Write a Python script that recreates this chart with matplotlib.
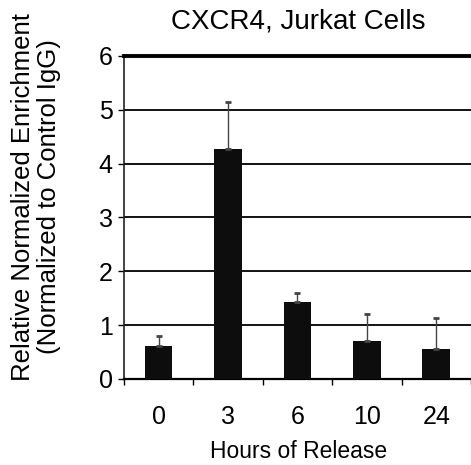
import matplotlib
matplotlib.use("Agg")
from matplotlib import pyplot as plt

plt.rcParams['font.family'] = ['Liberation Sans', 'DejaVu Sans']

hours = ["0", "3", "6", "10", "24"]
enrichment = [0.61, 4.27, 1.43, 0.71, 0.56]
err_top = [0.80, 5.15, 1.60, 1.20, 1.14]

err_up = [t - v for t, v in zip(err_top, enrichment)]
err_down = [0] * len(enrichment)

fig = plt.figure(figsize=(4.71, 4.65), dpi=100)
ax = fig.add_axes([0.263, 0.185, 0.737, 0.695])

pos = list(range(len(hours)))
ax.bar(pos, enrichment, width=0.4, color="#0d0d0d", zorder=3)
ax.errorbar(pos, enrichment, yerr=[err_down, err_up], fmt="none",
            ecolor="#444444", elinewidth=1.0, capsize=2.5, capthick=2, zorder=4)

ax.set_xlim(-0.5, len(hours) - 0.5)
ax.set_ylim(0, 6)
ax.set_yticks(range(0, 7))
for y in range(1, 6):
    ax.axhline(y, color="black", lw=1.3, zorder=1)

ax.set_xticks([p - 0.5 for p in pos] + [len(hours) - 0.5])
ax.set_xticklabels([])
ax.set_xticks(pos, minor=True)
ax.set_xticklabels(hours, minor=True, fontsize=18)
ax.tick_params(axis="x", which="minor", length=0, pad=19)
ax.tick_params(axis="x", which="major", length=4, width=1, direction="out")
ax.tick_params(axis="y", length=4, width=1, direction="out", labelsize=18, pad=4)

ax.spines["right"].set_visible(False)
ax.spines["top"].set_linewidth(2.8)
ax.spines["bottom"].set_linewidth(1.6)
ax.spines["left"].set_linewidth(1.2)
ax.spines["left"].set_color("#222222")

fig.text(0.633, 0.953, "CXCR4, Jurkat Cells", fontsize=20, ha="center", va="center")
fig.text(0.633, 0.03, "Hours of Release", fontsize=16.5, ha="center", va="center")
fig.text(0.077, 0.577, "Relative Normalized Enrichment\n(Normalized to Control IgG)",
         rotation=90, ha="center", va="center", fontsize=18.5, linespacing=1.12)

fig.savefig("out.png", dpi=100)
